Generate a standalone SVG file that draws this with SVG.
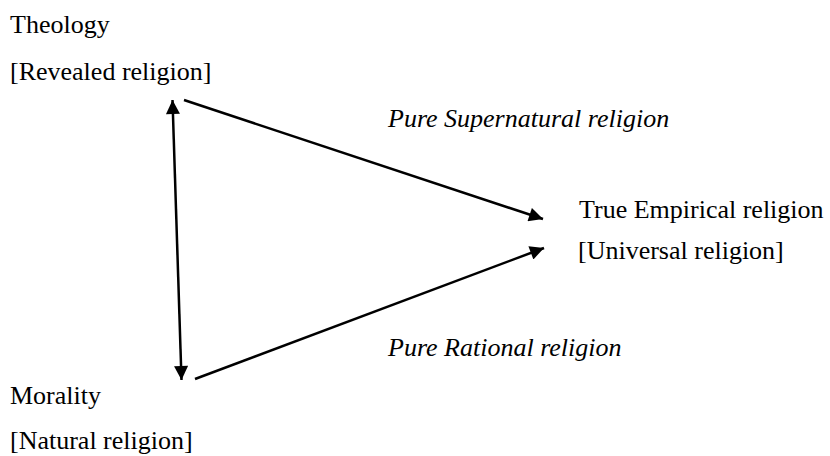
<svg xmlns="http://www.w3.org/2000/svg" width="830" height="456" viewBox="0 0 830 456">
<style>
text{font-family:"Liberation Serif","Times New Roman",serif;font-size:26px;fill:#000}
.i{font-style:italic}
.c{stroke:#000;stroke-width:2.5;fill:none}
</style>
<defs>
<marker id="ah" viewBox="0 0 10 10" refX="10" refY="5" markerWidth="6.4" markerHeight="5.6" markerUnits="strokeWidth" orient="auto-start-reverse">
<path d="M0,0 L10,5 L0,10 z" fill="#000"/>
</marker>
</defs>
<rect width="830" height="456" fill="#fff"/>
<g id="connectors">
<line class="c" x1="172.5" y1="100" x2="181.5" y2="380" marker-start="url(#ah)" marker-end="url(#ah)"/>
<line class="c" x1="184" y1="100" x2="543" y2="219" marker-end="url(#ah)"/>
<line class="c" x1="195" y1="379" x2="544" y2="248" marker-end="url(#ah)"/>
</g>
<g id="theology"><text x="10" y="33">Theology</text><text x="10" y="80">[Revealed religion]</text></g>
<g id="empirical"><text x="579" y="218">True Empirical religion</text><text x="578" y="259">[Universal religion]</text></g>
<g id="morality"><text x="10" y="404">Morality</text><text x="10" y="449">[Natural religion]</text></g>
<g id="labels"><text class="i" x="388" y="127">Pure Supernatural religion</text><text class="i" x="388" y="356">Pure Rational religion</text></g>
</svg>
